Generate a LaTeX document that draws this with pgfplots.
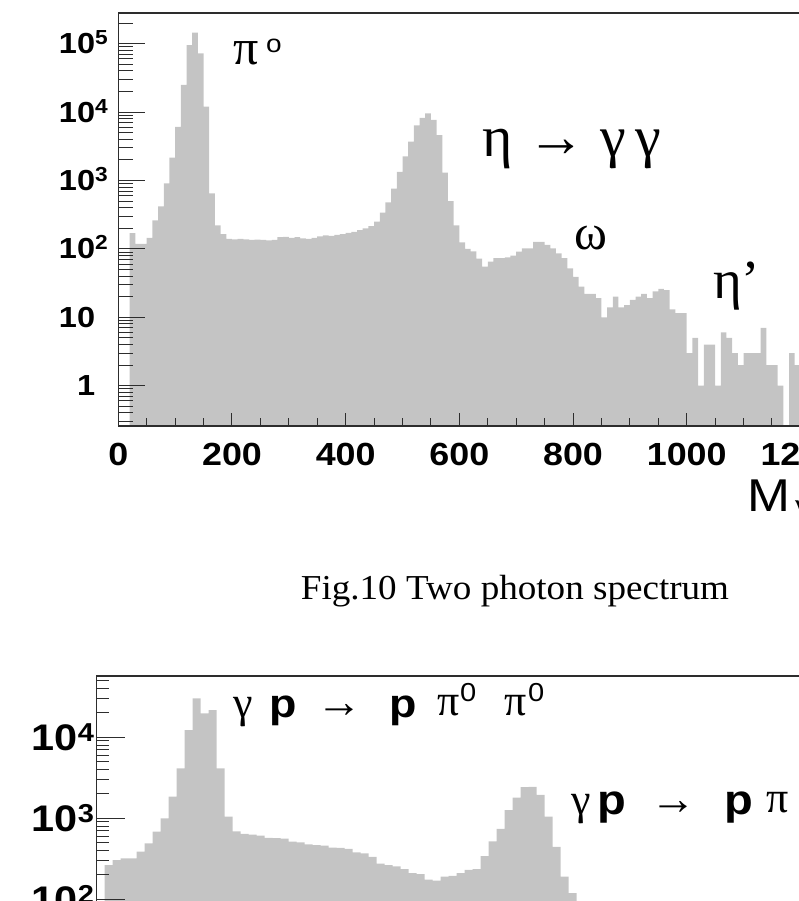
\documentclass[border=0pt]{standalone}
\usepackage{pgfplots}
\pgfplotsset{compat=1.18}
\usepackage{fontspec}
\setmainfont{Liberation Serif}
\newfontfamily\rsans[FakeStretch=1.12]{Liberation Sans}
\newfontfamily\rserif{Liberation Serif}
\newfontfamily\capfont[FakeStretch=1.06]{Liberation Serif}
\definecolor{histgray}{RGB}{196,196,196}
\definecolor{framecol}{RGB}{45,45,45}
\newcommand{\fs}[1]{\fontsize{#1bp}{#1bp}\selectfont}
\newcommand{\pw}[1]{10\rlap{\smash{\textsuperscript{#1}}}}

\begin{document}
\begin{tikzpicture}[x=1bp,y=1bp]
\useasboundingbox (0,0) rectangle (799,901);
\clip (0,0) rectangle (799,901);

% ---------- top chart: histogram and y ticks ----------
\begin{semilogyaxis}[
  at={(118.3bp,475bp)}, anchor=south west, scale only axis,
  width=738.9bp, height=413bp,
  xmin=0, xmax=1300, ymin=0.2576, ymax=281000,
  axis line style={line width=1.3bp, draw=framecol},
  tick pos=left, tick align=inside,
  tick style={line width=1bp, draw=framecol},
  axis on top,
  xmajorticks=false, xminorticks=false,
  ytick={1,10,100,1000,10000,100000},
  yticklabels={1,10,\pw{2},\pw{3},\pw{4},\pw{5}},
  minor ytick={0.3,0.4,0.5,0.6,0.7,0.8,0.9,2,3,4,5,6,7,8,9,20,30,40,50,60,70,80,90,200,300,400,500,600,700,800,900,2000,3000,4000,5000,6000,7000,8000,9000,20000,30000,40000,50000,60000,70000,80000,90000,200000},
  major tick length=27bp, minor tick length=15bp,
  yticklabel style={font=\rsans\bfseries\fs{29}, anchor=east, inner sep=0pt, xshift=-23bp},
]
\addplot[const plot, fill=histgray, draw=none] coordinates {
(20,0.001)(20,170)(30,118)(40,118)(50,145)(60,260)(70,420)(80,910)(90,2150)
(100,6100)(110,25000)(120,95000)(130,145000)(140,72000)(150,12000)(160,650)(170,220)(180,165)(190,140)
(200,138)(210,140)(220,138)(230,135)(240,137)(250,135)(260,133)(270,135)(280,148)(290,150)
(300,145)(310,148)(320,143)(330,140)(340,145)(350,152)(360,158)(370,155)(380,160)(390,165)
(400,172)(410,178)(420,188)(430,200)(440,215)(450,250)(460,340)(470,480)(480,760)(490,1340)
(500,2250)(510,3700)(520,6400)(530,8200)(540,9600)(550,7700)(560,4600)(570,1300)(580,500)(590,220)
(600,125)(610,100)(620,92)(630,72)(640,55)(650,65)(660,73)(670,73)(680,75)(690,80)
(700,91)(710,102)(720,102)(730,127)(740,127)(750,114)(760,102)(770,86)(780,73)(790,52)
(800,39)(810,28)(820,22)(830,22)(840,19)(850,10)(860,14)(870,20)(880,14)(890,15)
(900,18)(910,20)(920,22)(930,19)(940,24)(950,26)(960,25)(970,13)(980,11.5)(990,11.5)
(1000,3)(1010,5)(1020,1)(1030,4)(1040,4)(1050,1)(1060,6)(1070,5)(1080,3)(1090,2)
(1100,3)(1110,3)(1120,3)(1130,7)(1140,2)(1150,2)(1160,1)(1170,0.001)(1180,3)(1190,2)(1200,0.001)
};
\end{semilogyaxis}

% ---------- top chart: x ticks ----------
\begin{semilogyaxis}[
  at={(118.3bp,475bp)}, anchor=south west, scale only axis,
  width=738.9bp, height=413bp,
  xmin=0, xmax=1300, ymin=0.2576, ymax=281000,
  axis line style={line width=1.3bp, draw=framecol},
  tick pos=left, tick align=inside,
  tick style={line width=1bp, draw=framecol},
  ymajorticks=false, yminorticks=false,
  xtick={0,200,400,600,800,1000,1200},
  xticklabels={0,200,400,600,800,1000,1200},
  minor xtick={50,100,150,250,300,350,450,500,550,650,700,750,850,900,950,1050,1100,1150,1250},
  major tick length=13bp, minor tick length=8bp,
  xticklabel style={font=\rsans\bfseries\fs{32}, anchor=north, inner sep=0pt, yshift=-17bp},
]
\addplot[draw=none] coordinates {(0,1)(1300,1)};
\end{semilogyaxis}

% annotations, top chart
\node[anchor=base west, inner sep=0pt] at (233,836) {\rserif\fs{50}π};
\node[anchor=base west, inner sep=0pt] at (266,848) {\rsans\fs{25}o};
\node[anchor=base west, inner sep=0pt] at (482,744) {\rserif\fs{58}η};
\node[anchor=base west, inner sep=0pt] at (527,744) {\rserif\fs{58}→};
\node[anchor=base west, inner sep=0pt] at (600,744) {\rserif\fs{58}γ};
\node[anchor=base west, inner sep=0pt] at (635,744) {\rserif\fs{58}γ};
\node[anchor=base west, inner sep=0pt] at (574,651) {\rserif\fs{50}ω};
\node[anchor=base west, inner sep=0pt] at (713,602) {\rserif\fs{55}η’};
\node[anchor=base west, inner sep=0pt] at (747,389) {\rsans\fs{46}M\hspace{5bp}\raisebox{-4bp}{\rserif\fs{32}γγ}};

% caption
\node[anchor=base, inner sep=0pt] at (515,301) {\capfont\fs{35}Fig.10 Two photon spectrum};

% ---------- bottom chart ----------
\begin{semilogyaxis}[
  at={(96.7bp,-160.3bp)}, anchor=south west, scale only axis,
  width=1040bp, height=385.3bp,
  xmin=0, xmax=1300, ymin=1, ymax=57100,
  axis line style={line width=1.3bp, draw=framecol},
  tick pos=left, tick align=inside,
  tick style={line width=1bp, draw=framecol},
  axis on top,
  xmajorticks=false, xminorticks=false,
  ytick={10,100,1000,10000},
  yticklabels={10,\pw{2},\pw{3},\pw{4}},
  minor ytick={2,3,4,5,6,7,8,9,20,30,40,50,60,70,80,90,200,300,400,500,600,700,800,900,2000,3000,4000,5000,6000,7000,8000,9000,20000,30000,40000,50000},
  major tick length=28bp, minor tick length=12bp,
  yticklabel style={font=\rsans\bfseries\fs{37}, anchor=east, inner sep=0pt, xshift=-18.7bp},
]
\addplot[const plot, fill=histgray, draw=none] coordinates {
(10,0.001)(10,265)(20,305)(30,321)(40,321)(50,387)(60,490)(70,683)(80,1000)(90,1850)
(100,4140)(110,12300)(120,30300)(130,19800)(140,21700)(150,4140)(160,1050)(170,690)(180,640)(190,630)
(200,610)(210,575)(220,570)(230,560)(240,515)(250,505)(260,475)(270,468)(280,460)(290,435)
(300,430)(310,420)(320,380)(330,370)(340,333)(350,275)(360,265)(370,255)(380,235)(390,211)
(400,205)(410,175)(420,170)(430,190)(440,195)(450,211)(460,230)(470,235)(480,340)(490,520)
(500,740)(510,1260)(520,1800)(530,2430)(540,2450)(550,1940)(560,1050)(570,445)(580,190)(590,119)
(600,70)(610,50)(620,40)(630,30)(640,25)(650,0.001)
};
\end{semilogyaxis}

% annotations, bottom chart
\node[anchor=base west, inner sep=0pt] at (233,183) {\rserif\fs{44}γ};
\node[anchor=base west, inner sep=0pt] at (269,183) {\rsans\bfseries\fs{40}p};
\node[anchor=base west, inner sep=0pt] at (316,183) {\rserif\fs{46}→};
\node[anchor=base west, inner sep=0pt] at (389,183) {\rsans\bfseries\fs{40}p};
\node[anchor=base west, inner sep=0pt] at (437,185) {\rserif\fs{44}π};
\node[anchor=base west, inner sep=0pt] at (460,199) {\rsans\fs{26}0};
\node[anchor=base west, inner sep=0pt] at (504,185) {\rserif\fs{44}π};
\node[anchor=base west, inner sep=0pt] at (528,199) {\rsans\fs{26}0};

\node[anchor=base west, inner sep=0pt] at (571,86) {\rserif\fs{44}γ};
\node[anchor=base west, inner sep=0pt] at (597,86) {\rsans\bfseries\fs{42}p};
\node[anchor=base west, inner sep=0pt] at (650,86) {\rserif\fs{46}→};
\node[anchor=base west, inner sep=0pt] at (724,86) {\rsans\bfseries\fs{42}p};
\node[anchor=base west, inner sep=0pt] at (766,88) {\rserif\fs{44}π};
\end{tikzpicture}
\end{document}
